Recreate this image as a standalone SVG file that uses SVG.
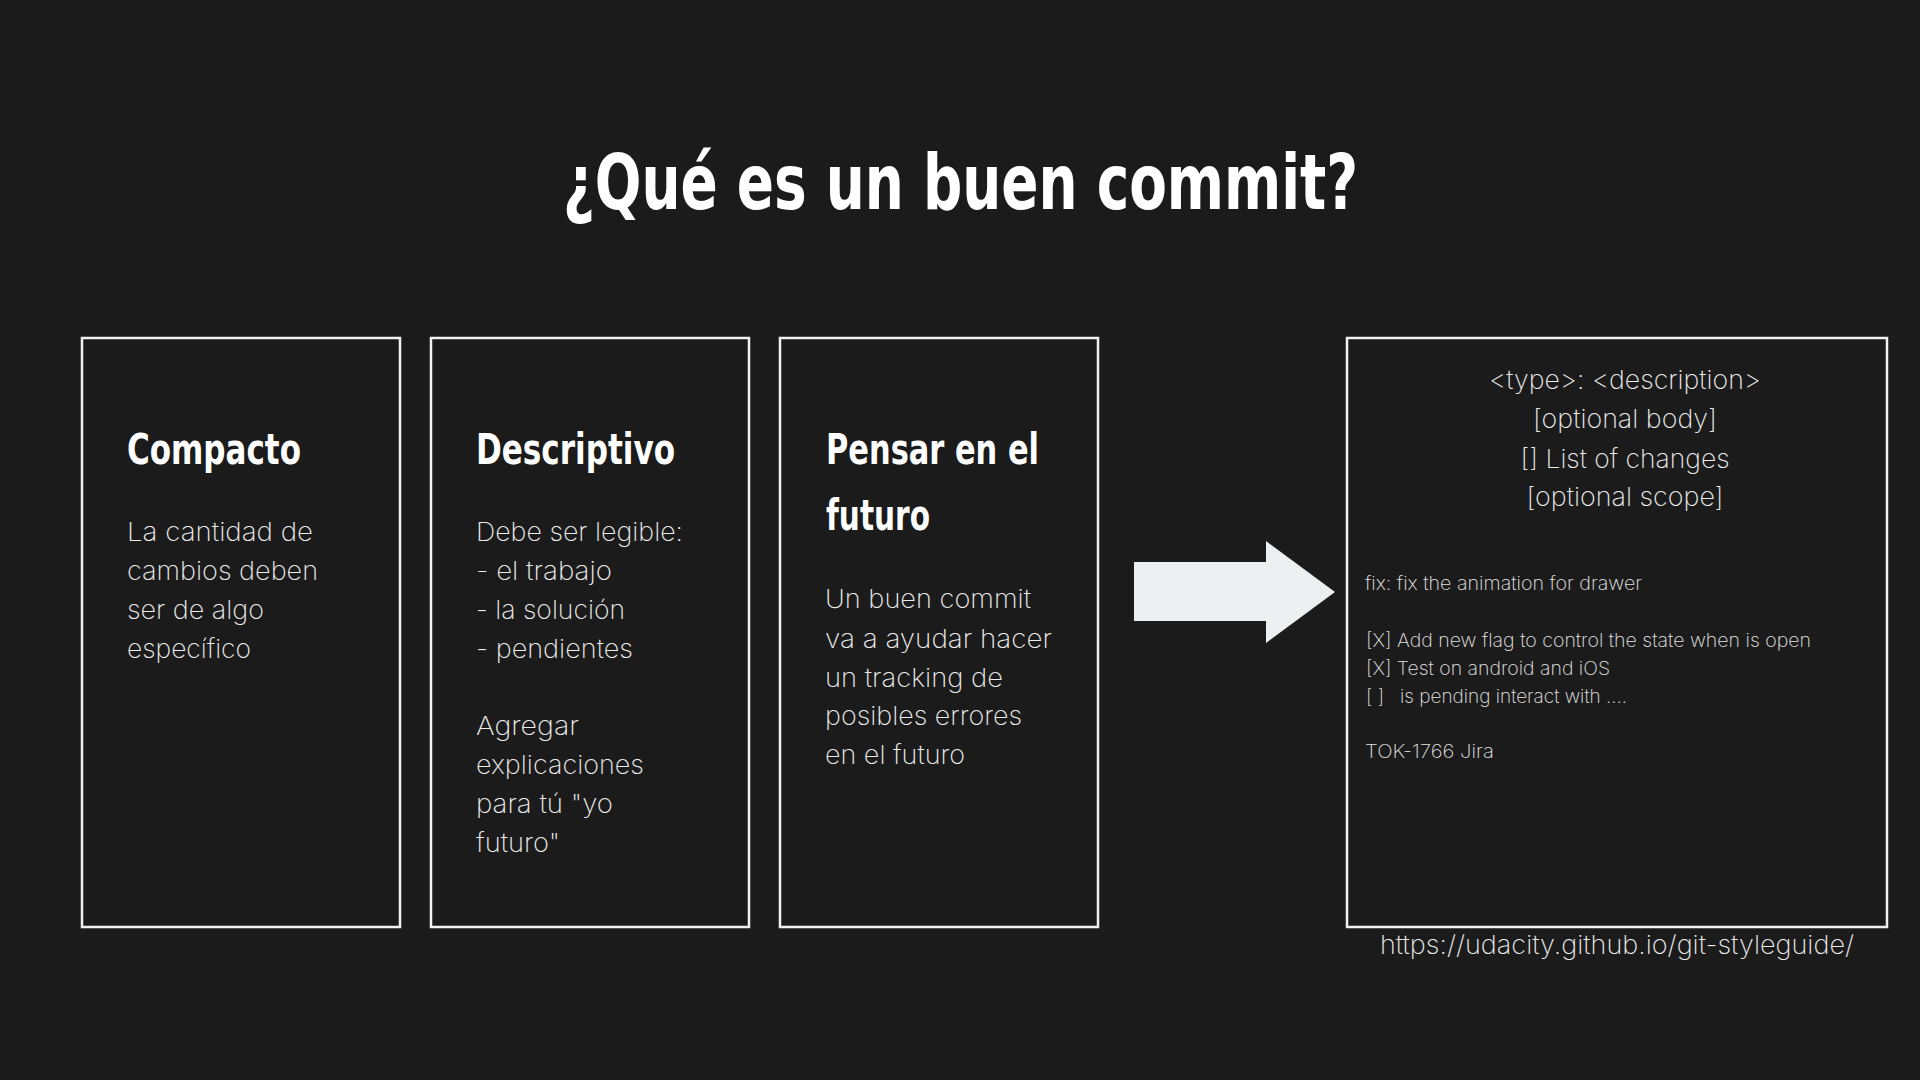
<svg xmlns="http://www.w3.org/2000/svg" width="1920" height="1080" viewBox="0 0 1920 1080">
<style>
.bg{fill:#1b1b1b}
.box{fill:#1b1b1b;stroke:#f2f2f2;stroke-width:2.5}
.title{font-family:"DejaVu Sans Condensed","DejaVu Sans",sans-serif;font-weight:bold;fill:#ffffff}
.head{font-family:"DejaVu Sans Condensed","DejaVu Sans",sans-serif;font-weight:bold;font-size:42px;fill:#ffffff}
.body{font-family:Inter,Lato,"Noto Sans",sans-serif;font-weight:200;font-size:26px;fill:#ececec}
.small{font-family:Inter,Lato,"Noto Sans",sans-serif;font-weight:200;font-size:19px;fill:#e4e4e4}
.mid{text-anchor:middle}
</style>
<rect class="bg" x="0" y="0" width="1920" height="1080"/>
<text class="title" x="563" y="209" font-size="77" textLength="795" lengthAdjust="spacingAndGlyphs">¿Qué es un buen commit?</text>

<g id="node-compacto">
<rect class="box" x="82" y="338" width="318" height="589"/>
<text class="head" x="127" y="464" textLength="174" lengthAdjust="spacingAndGlyphs">Compacto</text>
<text class="body" x="127" y="541" textLength="186" lengthAdjust="spacingAndGlyphs">La cantidad de</text>
<text class="body" x="127" y="580" textLength="191" lengthAdjust="spacingAndGlyphs">cambios deben</text>
<text class="body" x="127" y="619" textLength="137" lengthAdjust="spacingAndGlyphs">ser de algo</text>
<text class="body" x="127" y="658" textLength="124" lengthAdjust="spacingAndGlyphs">específico</text>
</g>

<g id="node-descriptivo">
<rect class="box" x="431" y="338" width="318" height="589"/>
<text class="head" x="476" y="464" textLength="199" lengthAdjust="spacingAndGlyphs">Descriptivo</text>
<text class="body" x="476" y="541" textLength="207" lengthAdjust="spacingAndGlyphs">Debe ser legible:</text>
<text class="body" x="476" y="580" textLength="136" lengthAdjust="spacingAndGlyphs">- el trabajo</text>
<text class="body" x="476" y="619" textLength="149" lengthAdjust="spacingAndGlyphs">- la solución</text>
<text class="body" x="476" y="658" textLength="157" lengthAdjust="spacingAndGlyphs">- pendientes</text>
<text class="body" x="476" y="735" textLength="103" lengthAdjust="spacingAndGlyphs">Agregar</text>
<text class="body" x="476" y="774" textLength="168" lengthAdjust="spacingAndGlyphs">explicaciones</text>
<text class="body" x="476" y="813" textLength="137" lengthAdjust="spacingAndGlyphs">para tú "yo</text>
<text class="body" x="476" y="852" textLength="84" lengthAdjust="spacingAndGlyphs">futuro"</text>
</g>

<g id="node-futuro">
<rect class="box" x="780" y="338" width="318" height="589"/>
<text class="head" x="826" y="464" textLength="213" lengthAdjust="spacingAndGlyphs">Pensar en el</text>
<text class="head" x="826" y="530" textLength="104" lengthAdjust="spacingAndGlyphs">futuro</text>
<text class="body" x="825" y="608" textLength="206" lengthAdjust="spacingAndGlyphs">Un buen commit</text>
<text class="body" x="825" y="648" textLength="227" lengthAdjust="spacingAndGlyphs">va a ayudar hacer</text>
<text class="body" x="825" y="687" textLength="178" lengthAdjust="spacingAndGlyphs">un tracking de</text>
<text class="body" x="825" y="725" textLength="197" lengthAdjust="spacingAndGlyphs">posibles errores</text>
<text class="body" x="825" y="764" textLength="140" lengthAdjust="spacingAndGlyphs">en el futuro</text>
</g>

<g id="connectors">
<polygon points="1134,562 1266,562 1266,541 1335,592 1266,643 1266,621 1134,621" fill="#eeeff1"/>
</g>

<g id="node-example">
<rect class="box" x="1347" y="338" width="540" height="589"/>
<text class="body mid" x="1625" y="389" textLength="272" lengthAdjust="spacingAndGlyphs">&lt;type&gt;: &lt;description&gt;</text>
<text class="body mid" x="1625" y="428" textLength="184" lengthAdjust="spacingAndGlyphs">[optional body]</text>
<text class="body mid" x="1625" y="468" textLength="209" lengthAdjust="spacingAndGlyphs">[] List of changes</text>
<text class="body mid" x="1625" y="506" textLength="197" lengthAdjust="spacingAndGlyphs">[optional scope]</text>
<text class="small" x="1365" y="590" textLength="277" lengthAdjust="spacingAndGlyphs">fix: fix the animation for drawer</text>
<text class="small" x="1366" y="647" textLength="445" lengthAdjust="spacingAndGlyphs">[X] Add new flag to control the state when is open</text>
<text class="small" x="1366" y="675" textLength="244" lengthAdjust="spacingAndGlyphs">[X] Test on android and iOS</text>
<text class="small" x="1366" y="703" textLength="261" lengthAdjust="spacingAndGlyphs" xml:space="preserve">[ ]   is pending interact with ....</text>
<text class="small" x="1365" y="758" textLength="129" lengthAdjust="spacingAndGlyphs">TOK-1766 Jira</text>
</g>

<text class="body" x="1380" y="954" textLength="474" lengthAdjust="spacingAndGlyphs">https://udacity.github.io/git-styleguide/</text>
</svg>
